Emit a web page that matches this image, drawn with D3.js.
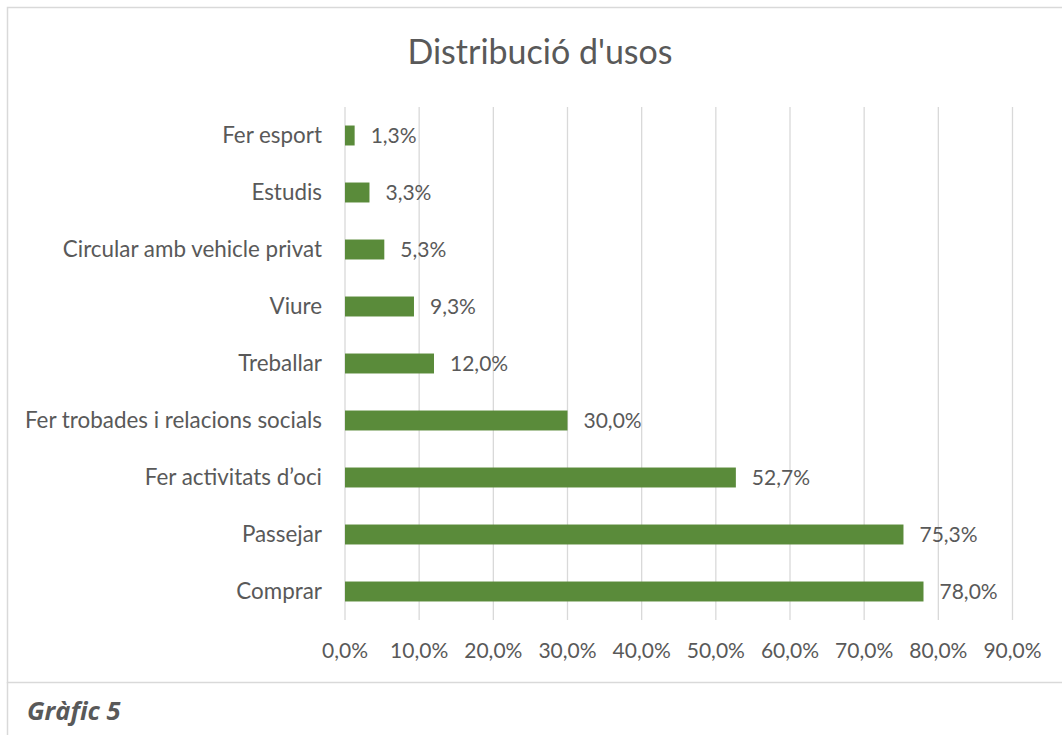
<!DOCTYPE html>
<html>
<head>
<meta charset="utf-8">
<script src="https://cdn.jsdelivr.net/npm/d3@7"></script>
<style>
  body { margin: 0; background: #fff; }
  text { font-family: Lato, "Open Sans", sans-serif; fill: #595959; }
</style>
</head>
<body>
<div id="chart"></div>
<script>
// data
var categories = ["Fer esport", "Estudis", "Circular amb vehicle privat", "Viure", "Treballar",
    "Fer trobades i relacions socials", "Fer activitats d\u2019oci", "Passejar", "Comprar"];
var values = [1.3, 3.3, 5.3, 9.3, 12.0, 30.0, 52.7, 75.3, 78.0];
var tickValues = [0, 10, 20, 30, 40, 50, 60, 70, 80, 90];
var chartTitle = "Distribuci\u00f3 d'usos";
var caption = "Gr\u00e0fic 5";

var width = 1062, height = 735;
var plot = {left: 345, right: 1012.5, top: 107, bottom: 620};
var fmt = d => d3.format(".1f")(d).replace(".", ",") + "%";

var svg = d3.select("#chart").append("svg")
    .attr("width", width)
    .attr("height", height);

// chart frame
svg.append("rect")
    .attr("x", 7.5).attr("y", 7.5)
    .attr("width", 1070).attr("height", 675)
    .attr("fill", "none")
    .attr("stroke", "#d9d9d9")
    .attr("stroke-width", 1.5);
svg.append("line")
    .attr("x1", 7.5).attr("x2", 7.5)
    .attr("y1", 682).attr("y2", height)
    .attr("stroke", "#d9d9d9")
    .attr("stroke-width", 1.5);

// scales
var x = d3.scaleLinear()
    .domain([0, 90])
    .range([plot.left, plot.right]);

var y = d3.scaleBand()
    .domain(categories)
    .range([plot.top, plot.bottom])
    .paddingInner(0.65)
    .paddingOuter(0.325);

// gridlines
svg.append("g")
    .selectAll("line")
    .data(tickValues)
    .enter().append("line")
    .attr("x1", d => x(d)).attr("x2", d => x(d))
    .attr("y1", plot.top).attr("y2", plot.bottom)
    .attr("stroke", "#d9d9d9")
    .attr("stroke-width", 1.3);

// x tick labels
svg.append("g")
    .selectAll("text")
    .data(tickValues)
    .enter().append("text")
    .attr("x", d => x(d))
    .attr("y", 658)
    .attr("text-anchor", "middle")
    .attr("font-size", 21)
    .text(d => fmt(d));

// category labels
svg.append("g")
    .selectAll("text")
    .data(categories)
    .enter().append("text")
    .attr("x", plot.left - 23)
    .attr("y", d => y(d) + y.bandwidth() / 2)
    .attr("dy", "0.35em")
    .attr("text-anchor", "end")
    .attr("font-size", 22.4)
    .text(d => d);

// bars
svg.append("g")
    .selectAll("rect")
    .data(values)
    .enter().append("rect")
    .attr("x", x(0))
    .attr("y", (d, i) => y(categories[i]))
    .attr("width", d => x(d) - x(0))
    .attr("height", y.bandwidth())
    .attr("fill", "#5a8b3a");

// value labels
svg.append("g")
    .selectAll("text")
    .data(values)
    .enter().append("text")
    .attr("x", d => x(d) + 16)
    .attr("y", (d, i) => y(categories[i]) + y.bandwidth() / 2)
    .attr("dy", "0.35em")
    .attr("font-size", 21)
    .text(d => fmt(d));

// title
svg.append("text")
    .attr("x", 540)
    .attr("y", 64)
    .attr("text-anchor", "middle")
    .attr("font-size", 34)
    .text(chartTitle);

// caption
svg.append("text")
    .attr("x", 27)
    .attr("y", 720)
    .attr("font-size", 25.5)
    .attr("font-weight", "bold")
    .attr("font-style", "italic")
    .style("font-family", "'Open Sans', Lato, sans-serif")
    .text(caption);
</script>
</body>
</html>
